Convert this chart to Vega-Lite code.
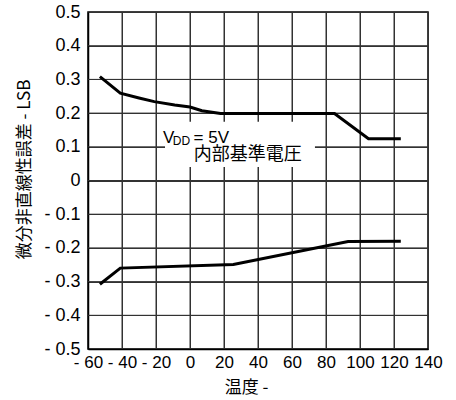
{
  "$schema": "https://vega.github.io/schema/vega-lite/v6.json",
  "width": 340,
  "height": 337,
  "autosize": "none",
  "padding": {"left": 88, "top": 12, "right": 28, "bottom": 51},
  "background": "white",
  "config": {
    "view": {"stroke": "black", "strokeWidth": 1.5},
    "font": "Liberation Sans, Noto Sans CJK JP"
  },
  "datasets": {
    "lines": [
      {"series": "upper", "t": -53, "v": 0.308},
      {"series": "upper", "t": -41, "v": 0.259},
      {"series": "upper", "t": -30, "v": 0.245},
      {"series": "upper", "t": -21, "v": 0.234},
      {"series": "upper", "t": -9, "v": 0.224},
      {"series": "upper", "t": 0, "v": 0.218},
      {"series": "upper", "t": 7, "v": 0.207},
      {"series": "upper", "t": 18, "v": 0.199},
      {"series": "upper", "t": 85, "v": 0.199},
      {"series": "upper", "t": 105, "v": 0.124},
      {"series": "upper", "t": 124, "v": 0.124},
      {"series": "lower", "t": -53, "v": -0.308},
      {"series": "lower", "t": -41, "v": -0.26},
      {"series": "lower", "t": 25.5, "v": -0.249},
      {"series": "lower", "t": 93, "v": -0.181},
      {"series": "lower", "t": 124, "v": -0.18}
    ],
    "gridx": [{"gx": -40}, {"gx": -20}, {"gx": 0}, {"gx": 20}, {"gx": 40}, {"gx": 60}, {"gx": 80}, {"gx": 100}, {"gx": 120}],
    "gridy": [{"gy": -0.4}, {"gy": -0.3}, {"gy": -0.2}, {"gy": -0.1}, {"gy": 0}, {"gy": 0.1}, {"gy": 0.2}, {"gy": 0.3}, {"gy": 0.4}],
    "box": [{"x1": -14.7, "x2": 73.5, "y1": 0.04, "y2": 0.174}],
    "labels": [
      {"t": -12.5, "v": 0.112, "txt": "V", "size": 17, "align": "left"},
      {"t": -5, "v": 0.106, "txt": "DD", "size": 12, "align": "left"},
      {"t": 12.5, "v": 0.112, "txt": "= 5V", "size": 17, "align": "left"},
      {"t": 34, "v": 0.06, "txt": "内部基準電圧", "size": 18, "align": "center"}
    ]
  },
  "layer": [
    {
      "data": {"name": "gridx"},
      "mark": {"type": "rule", "color": "#333333", "strokeWidth": 1},
      "encoding": {
        "x": {"field": "gx", "type": "quantitative"}
      }
    },
    {
      "data": {"name": "gridy"},
      "mark": {"type": "rule", "color": "#333333", "strokeWidth": 1},
      "encoding": {
        "y": {"field": "gy", "type": "quantitative"}
      }
    },
    {
      "data": {"name": "lines"},
      "mark": {"type": "line", "color": "black", "strokeWidth": 3},
      "encoding": {
        "x": {
          "field": "t", "type": "quantitative",
          "scale": {"domain": [-60, 140], "nice": false},
          "axis": {
            "values": [-60, -40, -20, 0, 20, 40, 60, 80, 100, 120, 140],
            "tickCount": 20,
            "labelExpr": "datum.value < 0 ? '- ' + abs(datum.value) : '' + datum.value",
            "grid": true, "gridColor": "#333333", "gridWidth": 1, "gridOpacity": 1,
            "tickSize": 0, "domainColor": "black", "domainWidth": 1.5,
            "labelColor": "black", "labelOverlap": false, "labelFlush": false,
            "labelFontSize": 17, "labelPadding": 5,
            "labelFont": "Liberation Sans",
            "title": "温度 -", "titleFontSize": 17, "titleFontWeight": "normal", "titleColor": "black",
            "titlePadding": 9, "titleX": 158,
            "titleFont": "Noto Sans CJK JP, Liberation Sans"
          }
        },
        "y": {
          "field": "v", "type": "quantitative",
          "scale": {"domain": [-0.5, 0.5], "nice": false},
          "axis": {
            "values": [-0.5, -0.4, -0.3, -0.2, -0.1, 0, 0.1, 0.2, 0.3, 0.4, 0.5],
            "tickCount": 20,
            "labelExpr": "abs(datum.value) < 0.001 ? '0' : (datum.value < 0 ? '- ' : '') + format(abs(datum.value), '.1f')",
            "grid": true, "gridColor": "#333333", "gridWidth": 1, "gridOpacity": 1,
            "tickSize": 0, "domainColor": "black", "domainWidth": 1.5,
            "labelColor": "black", "labelOverlap": false, "labelFlush": false,
            "labelFontSize": 18, "labelPadding": 8,
            "labelFont": "Liberation Sans",
            "title": "微分非直線性誤差 - LSB", "titleFontSize": 17, "titleFontWeight": "normal", "titleColor": "black",
            "titlePadding": 10, "titleY": 157,
            "titleFont": "Noto Sans CJK JP, Liberation Sans"
          }
        },
        "detail": {"field": "series"}
      }
    },
    {
      "data": {"name": "box"},
      "mark": {"type": "rect", "fill": "white", "strokeWidth": 0},
      "encoding": {
        "x": {"field": "x1", "type": "quantitative"},
        "x2": {"field": "x2"},
        "y": {"field": "y1", "type": "quantitative"},
        "y2": {"field": "y2"}
      }
    },
    {
      "data": {"name": "labels"},
      "mark": {"type": "text", "baseline": "alphabetic", "color": "black", "font": "Liberation Sans, Noto Sans CJK JP"},
      "encoding": {
        "x": {"field": "t", "type": "quantitative"},
        "y": {"field": "v", "type": "quantitative"},
        "text": {"field": "txt"},
        "size": {"field": "size", "type": "quantitative", "scale": null},
        "align": {"field": "align", "type": "nominal", "scale": null}
      }
    }
  ]
}
